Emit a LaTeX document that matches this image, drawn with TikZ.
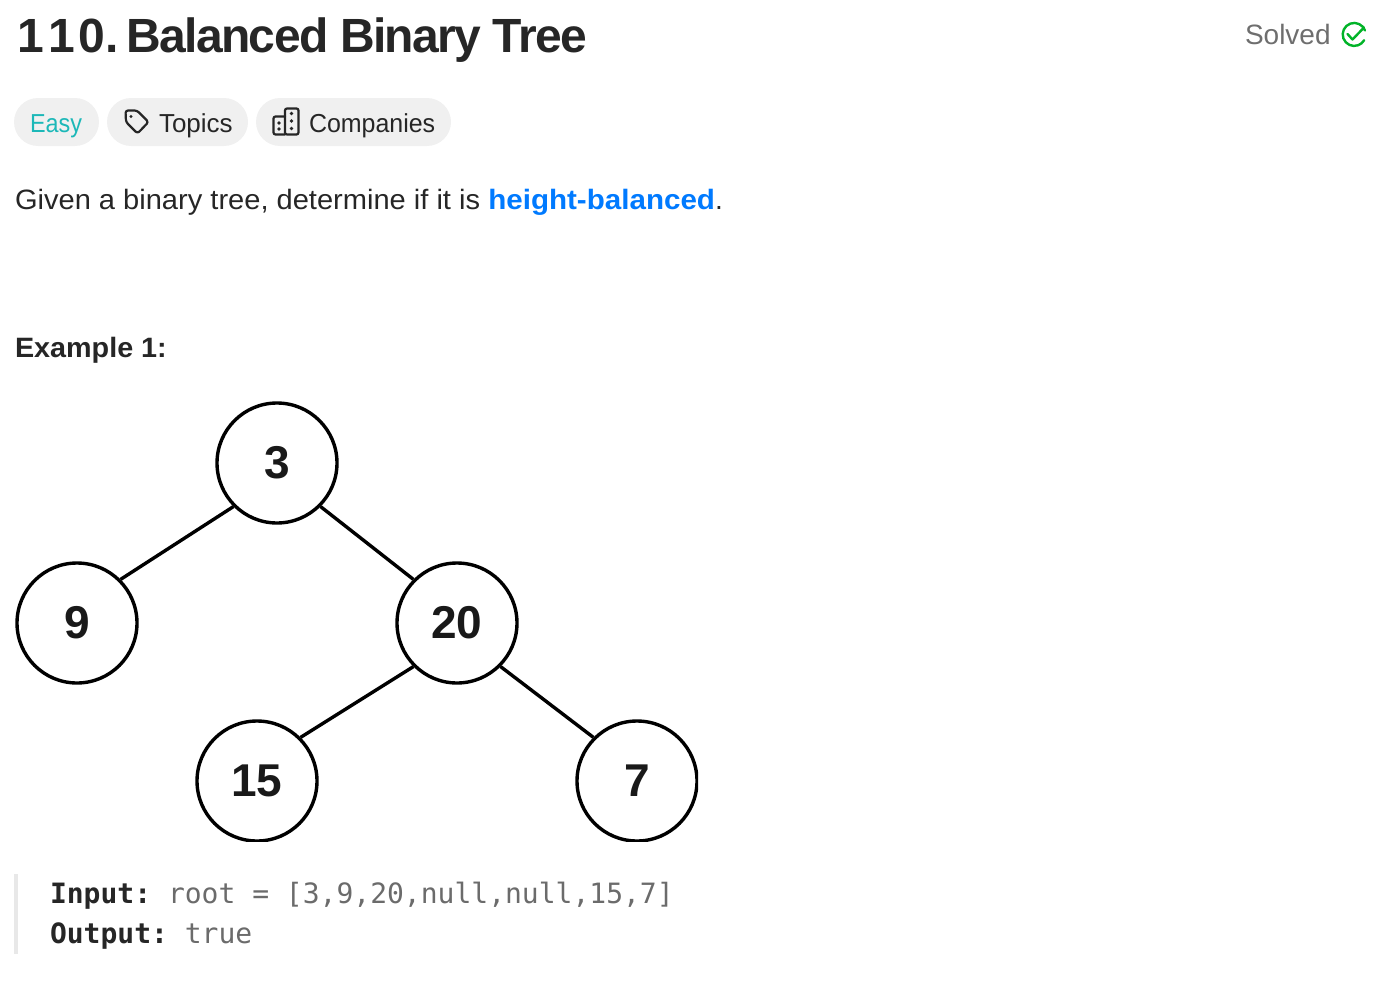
\documentclass[tikz,border=0pt]{standalone}
\usepackage{fontspec}
\usepackage{graphicx}
\setmainfont{Liberation Sans}
\newfontfamily\dmono{DejaVu Sans Mono}
\newfontfamily\titlefont[LetterSpace=-3.4]{Liberation Sans}
\definecolor{ink}{HTML}{262626}
\definecolor{pill}{HTML}{F0F0F0}
\definecolor{teal}{HTML}{1CB8B8}
\definecolor{linkblue}{HTML}{007AFF}
\definecolor{solvedgray}{HTML}{6E6E6E}
\definecolor{okgreen}{HTML}{01B328}
\definecolor{codegray}{HTML}{6B6B6B}
\definecolor{barcol}{HTML}{E8E8E8}
\newcommand{\fs}[1]{\fontsize{#1}{#1}\selectfont}
\frenchspacing
\tikzset{
  x=1pt,y=-1pt,
  txt/.style={anchor=base west,inner sep=0pt,outer sep=0pt,text=ink},
  treenode/.style={circle,draw=black,line width=3.4pt,minimum size=120pt,inner sep=0pt,font=\fs{46}\bfseries,text=black!90},
  edge/.style={draw=black,line width=3.4pt},
  pillbox/.style={fill=pill,rounded corners=24pt},
  iconline/.style={draw=ink,line width=2.2pt,line join=round,line cap=round},
}
\begin{document}
\begin{tikzpicture}
\useasboundingbox (0,0) rectangle (1384,982);
\node[txt,font=\fs{48}\bfseries] (title) at (17,53) {1\kern5pt 1\kern3pt 0.\kern8pt{\titlefont\bfseries Balanced Binary Tree}};
\node[txt,font=\fs{28},text=solvedgray] (solved) at (1245,45) {Solved};
\draw[draw=okgreen,line width=2.4pt,line cap=round] (1365,30.5) arc[start angle=-20,end angle=-330,radius=11.5];
\draw[draw=okgreen,line width=2.4pt,line cap=round,line join=round] (1347.5,34) -- (1352.5,39.5) -- (1364,27.5);
\fill[pillbox] (14,98) rectangle (99,146);
\fill[pillbox] (107,98) rectangle (248,146);
\fill[pillbox] (256,98) rectangle (451,146);
\node[txt,font=\fs{26},text=teal] (easy) at (30,132) {\scalebox{0.9}[1]{Easy}};
\node[txt,font=\fs{26}] (topics) at (159,132) {Topics};
\node[txt,font=\fs{26}] (companies) at (309,132) {\scalebox{0.96}[1]{Companies}};
\draw[iconline,rounded corners=2.5pt] (125.5,110.5) -- (137,110.5) -- (148.5,122) -- (137.5,133.5) -- (126,122) -- cycle;
\fill[ink] (131,116.5) circle[radius=1.6];
\draw[iconline,rounded corners=2pt] (285,108.5) rectangle (298.5,134.5);
\draw[iconline,rounded corners=2pt] (285,116.5) -- (273.5,116.5) -- (273.5,134.5) -- (285,134.5);
\foreach \p in {(291.5,113.5),(291.5,121),(291.5,128.5),(279,123),(279,129)}{\fill[ink] \p circle[radius=1.8];}
\node[txt,font=\fs{28}] (given) at (15,209) {\scalebox{1.038}[1]{Given a binary tree, determine if it is }\textcolor{linkblue}{\scalebox{1.056}[1]{\bfseries height-balanced}}.};
\node[txt,font=\fs{28}\bfseries] (example) at (15,357) {\scalebox{1.027}[1]{Example 1:}};
\begin{scope}
\clip (0,390) rectangle (698,841);
\node[treenode] (n3) at (277,463) {3};
\node[treenode] (n9) at (77,623) {9};
\node[treenode] (n20) at (457,623) {20};
\node[treenode] (n15) at (257,781) {15};
\node[treenode] (n7) at (637,781) {7};
\draw[edge] (n3.south west) -- (n9.north east);
\draw[edge] (n3.south east) -- (n20.north west);
\draw[edge] (n20.south west) -- (n15.north east);
\draw[edge] (n20.south east) -- (n7.north west);
\end{scope}
\fill[barcol] (14,874) rectangle (18,954);
\node[txt,font=\fs{28}\dmono,text=codegray] (input) at (50,903) {\textcolor{ink}{\bfseries Input:} root = [3,9,20,null,null,15,7]};
\node[txt,font=\fs{28}\dmono,text=codegray] (output) at (50,943) {\textcolor{ink}{\bfseries Output:} true};
\end{tikzpicture}
\end{document}
